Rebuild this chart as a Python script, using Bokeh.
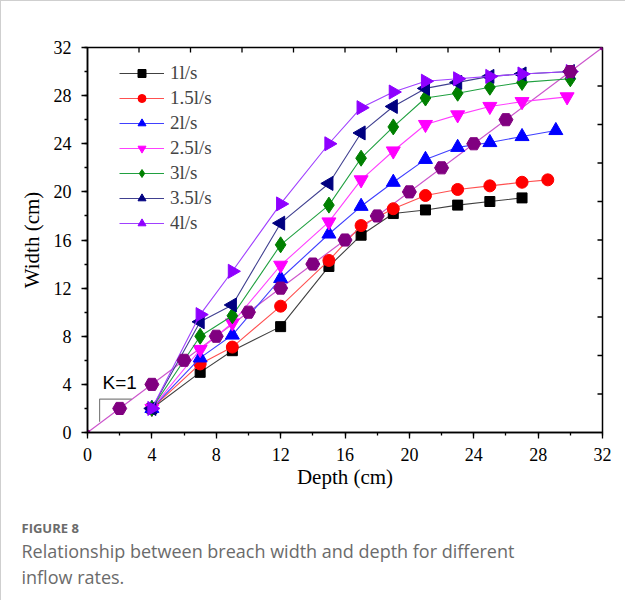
import math
from bokeh.plotting import figure
from bokeh.models import (Range1d, LinearAxis, SingleIntervalTicker, Legend, LegendItem,
                          Label, Title)
from bokeh.embed import file_html
from bokeh.resources import INLINE

# ---- data ----
x_1 = [4, 7, 9, 12, 15, 17, 19, 21, 23, 25, 27]
y_1 = [2, 5.0, 6.8, 8.8, 13.8, 16.4, 18.2, 18.5, 18.9, 19.2, 19.5]
x_15 = [4, 7, 9, 12, 15, 17, 19, 21, 23, 25, 27, 28.6]
y_15 = [2, 5.7, 7.1, 10.5, 14.3, 17.2, 18.6, 19.7, 20.2, 20.5, 20.8, 21.0]
x_2 = [4, 7, 9, 12, 15, 17, 19, 21, 23, 25, 27, 29.1]
y_2 = [2, 6.2, 8.1, 12.8, 16.5, 18.8, 20.8, 22.7, 23.7, 24.1, 24.6, 25.1]
x_25 = [4, 7, 9, 12, 15, 17, 19, 21, 23, 25, 27, 29.8]
y_25 = [2, 6.9, 9.1, 13.9, 17.5, 21.0, 23.4, 25.6, 26.4, 27.1, 27.5, 27.9]
x_3 = [4, 7, 9, 12, 15, 17, 19, 21, 23, 25, 27, 30]
y_3 = [2, 8.0, 9.7, 15.6, 18.9, 22.8, 25.4, 27.8, 28.2, 28.7, 29.1, 29.4]
x_35 = [4, 7, 9, 12, 15, 17, 19, 21, 23, 25, 27, 30]
y_35 = [2, 9.2, 10.6, 17.4, 20.7, 24.9, 27.1, 28.6, 29.1, 29.6, 29.8, 30.0]
x_4 = [4, 7, 9, 12, 15, 17, 19, 21, 23, 25, 27, 30]
y_4 = [2, 9.8, 13.4, 19.0, 24.0, 27.0, 28.3, 29.2, 29.4, 29.6, 29.8, 30.0]

k1_line_x = [0, 32]
k1_line_y = [0, 32]
k1_pts_x = [2, 4, 6, 8, 10, 12, 14, 16, 18, 20, 22, 24, 26, 30]
k1_pts_y = [2, 4, 6, 8, 10, 12, 14, 16, 18, 20, 22, 24, 26, 30]

slope_x = [0.75, 0.75, 2.75]
slope_y = [0.9, 2.77, 2.77]

series_labels = ["1l/s", "1.5l/s", "2l/s", "2.5l/s", "3l/s", "3.5l/s", "4l/s"]

# ticks of the unlabelled top / right frame edges
frame_ticks = [3.2 * i for i in range(1, 10)]

caption_head = "FIGURE 8"
caption_lines = ["Relationship between breach width and depth for different", "inflow rates."]

SERIF = "Liberation Serif"

p = figure(width=625, height=600, output_backend="svg", toolbar_location=None,
           x_range=Range1d(0, 32), y_range=Range1d(0, 32),
           min_border_left=86, min_border_right=24, min_border_top=46,
           min_border_bottom=169, x_axis_location=None, y_axis_location=None)
p.grid.visible = False
p.outline_line_color = "black"
p.outline_line_width = 1.5
p.background_fill_color = "white"
p.styles = {"border-left": "1px solid #cfcfcf", "border-top": "1px solid #cfcfcf"}

def style_axis(ax):
    ax.axis_line_width = 1.5
    ax.axis_line_color = "black"
    ax.major_tick_line_color = "black"
    ax.minor_tick_line_color = "black"
    ax.major_tick_line_width = 1.3
    ax.minor_tick_line_width = 1.3
    ax.major_label_text_font = SERIF
    ax.major_label_text_font_size = "18px"
    ax.major_label_text_color = "black"
    ax.axis_label_text_font = SERIF
    ax.axis_label_text_font_size = "21px"
    ax.axis_label_text_font_style = "normal"
    ax.axis_label_text_color = "black"
    ax.major_tick_out = 6
    ax.major_tick_in = 0
    ax.minor_tick_out = 3
    ax.minor_tick_in = 0

xb = LinearAxis(ticker=SingleIntervalTicker(interval=4, num_minor_ticks=2), axis_label="Depth (cm)")
style_axis(xb)
xb.major_label_standoff = 9
xb.axis_label_standoff = 1
p.add_layout(xb, "below")

yl = LinearAxis(ticker=SingleIntervalTicker(interval=4, num_minor_ticks=2), axis_label="Width (cm)")
style_axis(yl)
yl.major_label_standoff = 10
yl.axis_label_standoff = 7
p.add_layout(yl, "left")

# caption as left-aligned titles below the axis (first one is a blank spacer)
cap_color = "#6b6b6b"
p.add_layout(Title(text=" ", align="left", offset=0, standoff=9,
                   text_font="Open Sans", text_font_size="10px"), "below")
p.add_layout(Title(text=caption_head, align="left", offset=-66, standoff=0,
                   text_font="Open Sans", text_font_size="13px", text_font_style="bold",
                   text_color=cap_color), "below")
for t in caption_lines:
    p.add_layout(Title(text=t, align="left", offset=-66, standoff=0,
                       text_font="Open Sans", text_font_size="18px", text_font_style="normal",
                       text_color=cap_color), "below")

# inward ticks on the top and right frame edges
n = len(frame_ticks)
p.ray(x=frame_ticks, y=[32] * n, length=5, length_units="screen",
      angle=-math.pi / 2, line_color="black", line_width=1.3)
p.ray(x=[32] * n, y=frame_ticks, length=5, length_units="screen",
      angle=math.pi, line_color="black", line_width=1.3)

# K=1 reference
p.line(k1_line_x, k1_line_y, line_color="#CC55CC", line_width=1.2)
p.scatter(k1_line_x, k1_line_y, marker="circle", size=5, color="#800080")
p.line(slope_x, slope_y, line_color="#808080", line_width=1.2)
p.add_layout(Label(x=0.93, y=4.15, text="K=1", text_font="Liberation Sans",
                   text_font_size="19px", text_baseline="middle", text_color="black"))

specs = [
    (x_1, y_1, "black", "#404040", "square", 10, 0),
    (x_15, y_15, "#FF0000", "#FF5050", "circle", 12, 0),
    (x_2, y_2, "#0000FF", "#4040FF", "triangle", 14, 0),
    (x_25, y_25, "#FF00FF", "#FF40FF", "inverted_triangle", 14, 0),
    (x_3, y_3, "#008000", "#20A040", "diamond", 16, 0),
    (x_35, y_35, "#000080", "#404090", "triangle", 14, math.pi / 2),
    (x_4, y_4, "#8F00FF", "#A040FF", "triangle", 14, -math.pi / 2),
]
items = []
for (xs, ys, c, lc, mk, sz, ang), lab in zip(specs, series_labels):
    r1 = p.line(xs, ys, line_color=lc, line_width=1.1)
    r2 = p.scatter(xs, ys, marker=mk, size=sz, angle=ang, fill_color=c, line_color=c)
    items.append(LegendItem(label=lab, renderers=[r1, r2]))

p.scatter(k1_pts_x, k1_pts_y, marker="hex", size=14, fill_color="#800080", line_color="#800080")

legend = Legend(items=items, location=(32, 198), padding=0, margin=0,
                spacing=3, glyph_width=45, glyph_height=20, label_height=20,
                label_standoff=6, label_text_font=SERIF, label_text_font_size="19px",
                border_line_color=None, background_fill_alpha=0)
p.add_layout(legend, "center")

open("out.html", "w").write(file_html(p, INLINE))
